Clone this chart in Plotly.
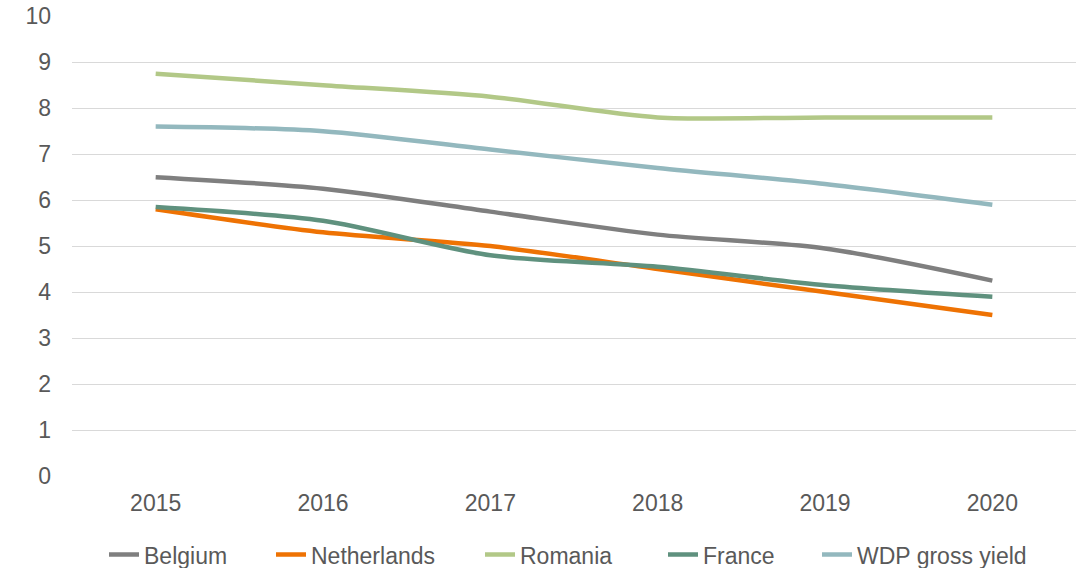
import plotly.graph_objects as go

years = ["2015", "2016", "2017", "2018", "2019", "2020"]
belgium = [6.5, 6.25, 5.75, 5.25, 4.95, 4.25]
netherlands = [5.8, 5.3, 5.0, 4.5, 4.0, 3.5]
romania = [8.75, 8.5, 8.25, 7.8, 7.8, 7.8]
france = [5.85, 5.55, 4.8, 4.55, 4.15, 3.9]
wdp = [7.6, 7.5, 7.1, 6.7, 6.35, 5.9]

# name, values, colour, legend text start (page px)
series = [
    ("Belgium", belgium, "#7f7f7f", 145),
    ("Netherlands", netherlands, "#ee7203", 312),
    ("Romania", romania, "#b2c887", 521),
    ("France", france, "#5f917e", 704),
    ("WDP gross yield", wdp, "#93b8be", 858),
]

fig = go.Figure()
legends = {}
for i, (name, vals, color, tx) in enumerate(series):
    lname = "legend" if i == 0 else f"legend{i + 1}"
    fig.add_trace(go.Scatter(
        x=years, y=vals, name=name, mode="lines", legend=lname,
        line=dict(color=color, width=4.5, shape="spline", smoothing=0.8),
    ))
    legends[lname] = dict(
        orientation="h", x=(tx - 41 - 72) / 1004, xanchor="left",
        y=-0.171, yanchor="middle", bgcolor="rgba(0,0,0,0)",
        font=dict(size=23, color="#595959"), itemwidth=30,
    )

fig.update_layout(
    width=1081, height=568,
    margin=dict(l=72, r=5, t=16, b=92, autoexpand=False),
    paper_bgcolor="white", plot_bgcolor="white",
    font=dict(family="Liberation Sans, Arial, sans-serif", size=23, color="#595959"),
    showlegend=True,
    xaxis=dict(type="category", range=[-0.5, 5.5], showgrid=False, showline=False,
               zeroline=False, ticks="", ticklabelstandoff=11),
    yaxis=dict(range=[0, 10.005], dtick=1, showgrid=True, gridcolor="#d9d9d9", gridwidth=1.3,
               zeroline=False, showline=False, ticks="", ticklabelstandoff=20,
               ticklabeloverflow="allow"),
    **legends,
)

fig.write_html("out.html", config={"displayModeBar": False},
               post_script="document.body.style.margin='0';")
